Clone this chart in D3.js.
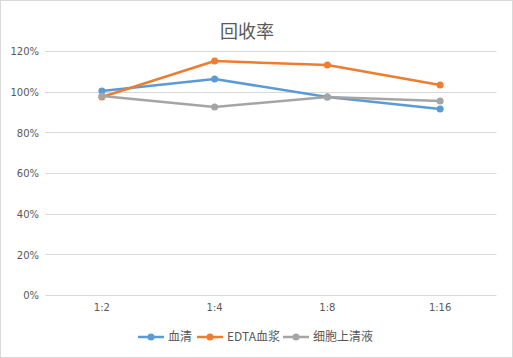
<!DOCTYPE html>
<html>
<head>
<meta charset="utf-8">
<script src="https://cdn.jsdelivr.net/npm/d3@7"></script>
<style>
  body { margin: 0; background: #fff; }
  text { font-family: "Microsoft YaHei", "Noto Sans CJK SC", "DejaVu Sans", sans-serif; }
</style>
</head>
<body>
<script>
'use strict';

// categories (dilution ratios)
const categories = ['1:2', '1:4', '1:8', '1:16'];
// recovery values, percent
const serum = [100.3, 106.2, 97.4, 91.5];
const edta = [97.4, 115.1, 113.1, 103.3];
const supernatant = [97.9, 92.5, 97.4, 95.4];
const seriesNames = ['血清', 'EDTA血浆', '细胞上清液'];
const seriesColors = ['#5b9bd5', '#ed7d31', '#a5a5a5'];
const yTicks = [0, 20, 40, 60, 80, 100, 120];

const width = 513, height = 358;
const svg = d3.select('body').append('svg')
  .attr('width', width)
  .attr('height', height);

// chart border
svg.append('rect')
  .attr('x', 0.5).attr('y', 0.5)
  .attr('width', width - 1).attr('height', height - 1)
  .attr('fill', '#fff')
  .attr('stroke', '#d9d9d9');

// title
svg.append('text')
  .attr('x', 247).attr('y', 38)
  .attr('text-anchor', 'middle')
  .style('font-size', '18px')
  .attr('fill', '#595959')
  .text('回收率');

let x = d3.scaleBand().domain(categories).range([45.5, 496.5]);
let y = d3.scaleLinear().domain([0, 120]).range([295, 51]);

// gridlines
svg.append('g')
  .selectAll('line')
  .data(yTicks)
  .enter()
  .append('line')
    .attr('x1', 45.5).attr('x2', 496.5)
    .attr('y1', (d) => Math.round(y(d)) + 0.5)
    .attr('y2', (d) => Math.round(y(d)) + 0.5)
    .attr('stroke', '#d9d9d9')
    .attr('stroke-width', 1);

// y axis labels
let yAxis = d3.axisLeft(y).tickValues(yTicks).tickSize(0).tickPadding(6)
  .tickFormat((d) => d + '%');
let yg = svg.append('g')
  .attr('transform', 'translate(45, 0.5)')
  .call(yAxis);
yg.select('.domain').remove();
yg.selectAll('text')
  .attr('fill', '#595959')
  .style('font-size', '10px')
  .style('font-family', '"DejaVu Sans", sans-serif');

// x axis labels
let xAxis = d3.axisBottom(x).tickSize(0).tickPadding(9);
let xg = svg.append('g')
  .attr('transform', 'translate(0, 295)')
  .call(xAxis);
xg.select('.domain').remove();
xg.selectAll('text')
  .attr('fill', '#595959')
  .style('font-size', '10px')
  .style('font-family', '"DejaVu Sans", sans-serif');

// series lines and markers
const allSeries = [serum, edta, supernatant];
let line = d3.line()
  .x((d, i) => x(categories[i]) + x.bandwidth() / 2)
  .y((d) => y(d));

allSeries.forEach((values, s) => {
  svg.append('path')
    .datum(values)
    .attr('d', line)
    .attr('fill', 'none')
    .attr('stroke', seriesColors[s])
    .attr('stroke-width', 2.5)
    .attr('stroke-linejoin', 'round')
    .attr('stroke-linecap', 'round');

  svg.selectAll('.dot' + s)
    .data(values)
    .enter()
    .append('circle')
      .attr('cx', (d, i) => x(categories[i]) + x.bandwidth() / 2)
      .attr('cy', (d) => y(d))
      .attr('r', 3.5)
      .attr('fill', seriesColors[s]);
});

// legend
const legendX = [138, 197, 283];
let legend = svg.append('g').attr('transform', 'translate(0, 337)');
seriesNames.forEach((name, s) => {
  let g = legend.append('g').attr('transform', 'translate(' + legendX[s] + ', 0)');
  g.append('line')
    .attr('x1', 0).attr('x2', 26)
    .attr('y1', 0).attr('y2', 0)
    .attr('stroke', seriesColors[s])
    .attr('stroke-width', 2.5);
  g.append('circle')
    .attr('cx', 13).attr('cy', 0).attr('r', 3.5)
    .attr('fill', seriesColors[s]);
  g.append('text')
    .attr('x', 30).attr('y', 4)
    .style('font-size', '12px')
    .attr('fill', '#595959')
    .text(name);
});
</script>
</body>
</html>
